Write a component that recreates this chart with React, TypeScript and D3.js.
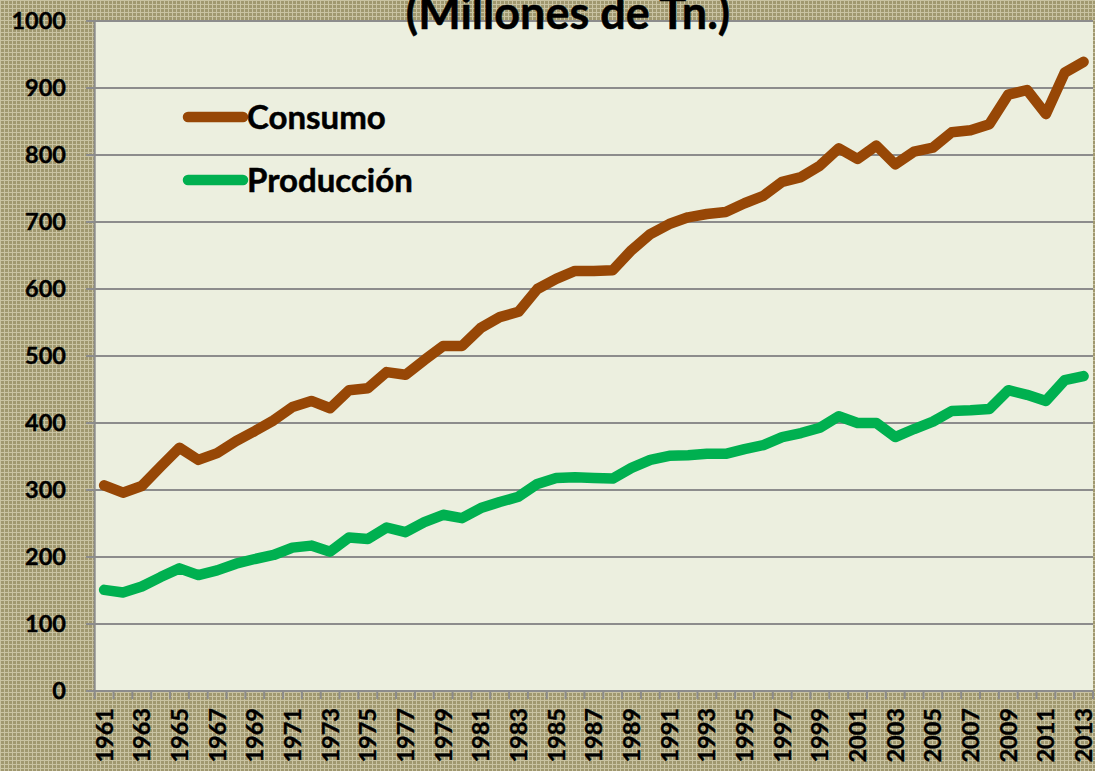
import React from "react";
import * as d3 from "d3";

const years: number[] = [];
for (let y = 1961; y <= 2013; y++) years.push(y);

const consumo = [307, 296, 306, 335, 363, 345, 355, 373, 388, 404, 424, 433, 422, 449, 452, 476, 472, 494, 515, 515, 542, 558, 566, 600, 615, 627, 627, 628, 658, 682, 697, 707, 712, 715, 728, 739, 760, 767, 784, 810, 794, 814, 786, 805, 811, 834, 837, 846, 890, 897, 861, 923, 939];
const produccion = [151, 147, 156, 170, 183, 173, 180, 190, 197, 203, 214, 217, 208, 229, 227, 244, 237, 252, 263, 258, 273, 282, 290, 309, 318, 319, 318, 317, 333, 345, 351, 352, 354, 354, 361, 367, 379, 385, 393, 410, 400, 400, 379, 391, 402, 418, 419, 421, 449, 442, 433, 464, 470];
const yTicks = [0, 100, 200, 300, 400, 500, 600, 700, 800, 900, 1000];
const series = [
  { name: "Consumo", values: consumo, color: "#974706" },
  { name: "Producción", values: produccion, color: "#00B050" },
];
const title = "(Millones de Tn.)";

const W = 1095, H = 771;
const L = 94.7, R = 1093, T = 21, B = 691;
const FONT = "Lato, 'Open Sans', sans-serif";

export default function App() {
  const x = d3.scaleBand<number>().domain(years).range([L, R]);
  const y = d3.scaleLinear().domain([0, 1000]).range([B, T]);
  const line = d3.line<number>()
    .x((_, i) => (x(years[i]) as number) + x.bandwidth() / 2)
    .y((d) => y(d));
  const labelYears = years.filter((yr) => (yr - 1961) % 2 === 0);
  const tickXs = years.map((yr) => x(yr) as number).concat([R]);
  return (
    <svg width={W} height={H} style={{ position: "absolute", left: 0, top: 0, display: "block" }}>
      <defs>
        <pattern id="tex" width={4} height={4} patternUnits="userSpaceOnUse">
          <rect width={4} height={4} fill="#A0986F" />
          <rect x={0} y={0} width={4} height={1} fill="#C9C3A2" />
          <rect x={0} y={0} width={1} height={4} fill="#C9C3A2" />
        </pattern>
      </defs>
      <rect width={W} height={H} fill="url(#tex)" />
      <rect x={L} y={T} width={R - L} height={B - T} fill="#ECEFDF" />
      {yTicks.map((t) => (
        <line key={t} x1={86} x2={R} y1={y(t)} y2={y(t)} stroke="#8C8C8C" strokeWidth={2} />
      ))}
      {yTicks.map((t) => (
        <text key={"l" + t} x={66} y={y(t)} dy="0.36em" textAnchor="end" fontFamily={FONT} fontWeight="bold" fontSize={23.5} fill="#000" stroke="#000" strokeWidth={0.4}>{t}</text>
      ))}
      <line x1={L} x2={L} y1={T} y2={B} stroke="#8C8C8C" strokeWidth={2} />
      {tickXs.map((tx, i) => (
        <line key={"t" + i} x1={tx} x2={tx} y1={B} y2={B + 8} stroke="#8C8C8C" strokeWidth={2} />
      ))}
      {labelYears.map((yr) => {
        const cx = (x(yr) as number) + x.bandwidth() / 2;
        return (
          <text key={"x" + yr} transform={`translate(${cx},708) rotate(-90)`} dy="0.36em" textAnchor="end" fontFamily={FONT} fontWeight="bold" fontSize={23.5} fill="#000" stroke="#000" strokeWidth={0.4}>{yr}</text>
        );
      })}
      {series.map((s) => (
        <path key={s.name} d={line(s.values) || ""} fill="none" stroke={s.color} strokeWidth={10.5} strokeLinejoin="round" strokeLinecap="round" />
      ))}
      {series.map((s, i) => (
        <g key={"lg" + s.name}>
          <line x1={188} x2={243} y1={117 + i * 63} y2={117 + i * 63} stroke={s.color} strokeWidth={10.5} strokeLinecap="round" />
          <text x={247} y={117 + i * 63} dy="0.36em" fontFamily={FONT} fontWeight="bold" fontSize={33} fill="#000" stroke="#000" strokeWidth={0.5}>{s.name}</text>
        </g>
      ))}
      <text x={568} y={29} textAnchor="middle" fontFamily={FONT} fontWeight="bold" fontSize={45} fill="#000" stroke="#000" strokeWidth={0.5}>{title}</text>
    </svg>
  );
}
